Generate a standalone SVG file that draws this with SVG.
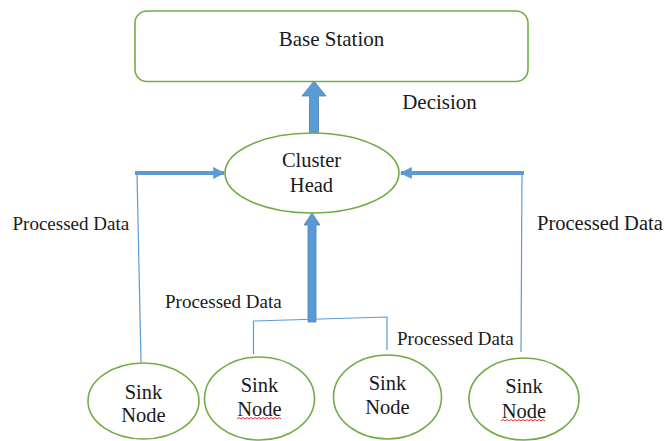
<svg xmlns="http://www.w3.org/2000/svg" width="666" height="441" viewBox="0 0 666 441">
<style>
.shape{fill:#fff;stroke:#70ad47;stroke-width:1.6}
text{font-family:'Liberation Serif','DejaVu Serif',serif;fill:#1a1a1a}
.t{text-anchor:middle;font-size:20.5px}
.pd{font-size:19px}
.thin{stroke:#5b9bd5;stroke-width:1.2;fill:none}
.thick{stroke:#5b9bd5;stroke-width:4;fill:none}
.big{fill:#5b9bd5;stroke:#4a83b8;stroke-width:0.8}
.sq{stroke:#e03030;stroke-width:1;fill:none}
</style>
<defs>
<marker id="ah" viewBox="0 0 10 10" refX="9" refY="5" markerWidth="3" markerHeight="3" orient="auto" markerUnits="strokeWidth">
<path d="M0,0 L10,5 L0,10 z" fill="#5b9bd5"/>
</marker>
</defs>
<rect width="666" height="441" fill="#fff"/>

<g id="connectors">
<polygon class="big" points="309.5,133 318.5,133 318.5,96 326,96 314,81 302,96 309.5,96"/>
<line class="thin" x1="137" y1="173" x2="141" y2="362"/>
<line class="thick" x1="135" y1="173" x2="224" y2="173" marker-end="url(#ah)"/>
<line class="thin" x1="522" y1="173" x2="521" y2="352"/>
<line class="thick" x1="524" y1="173" x2="401" y2="173" marker-end="url(#ah)"/>
<polygon class="big" points="308,322 316,322 316,225 320,225 312,213 304,225 308,225"/>
<polyline class="thin" points="253.5,354 253.5,321 387,317 387,350"/>
</g>

<g id="base-station">
<rect class="shape" x="135" y="11" width="393" height="70.5" rx="12"/>
<text class="t" x="331.5" y="46" font-family="Liberation Serif, serif" style="font-size:21px">Base Station</text>
</g>
<text class="t" x="439.5" y="109" font-family="Liberation Serif, serif" style="font-size:21px">Decision</text>

<g id="cluster-head">
<ellipse class="shape" cx="312" cy="173" rx="87" ry="40"/>
<text class="t" x="311.5" y="167">Cluster</text>
<text class="t" x="311.5" y="192">Head</text>
</g>

<text class="pd" x="12.5" y="230">Processed Data</text>
<text class="pd" x="537" y="230" style="font-size:20.5px">Processed Data</text>
<text class="pd" x="165" y="308">Processed Data</text>
<text class="pd" x="397" y="345">Processed Data</text>

<g id="sink1">
<ellipse class="shape" cx="143.5" cy="401" rx="55.5" ry="38"/>
<text class="t" x="143.5" y="399">Sink</text>
<text class="t" x="143.5" y="422">Node</text>
</g>
<g id="sink2">
<ellipse class="shape" cx="259.5" cy="398.5" rx="55" ry="41.5"/>
<text class="t" x="259.5" y="392">Sink</text>
<text class="t" x="259.5" y="416">Node</text>
<path class="sq" d="M237,419 l2,-1.5 l2,1.5 l2,-1.5 l2,1.5 l2,-1.5 l2,1.5 l2,-1.5 l2,1.5 l2,-1.5 l2,1.5 l2,-1.5 l2,1.5 l2,-1.5 l2,1.5 l2,-1.5 l2,1.5 l2,-1.5 l2,1.5 l2,-1.5 l2,1.5 l2,-1.5 l2,1.5"/>
</g>
<g id="sink3">
<ellipse class="shape" cx="387.5" cy="397" rx="54" ry="42"/>
<text class="t" x="387.5" y="390">Sink</text>
<text class="t" x="387.5" y="414">Node</text>
</g>
<g id="sink4">
<ellipse class="shape" cx="524" cy="399" rx="55" ry="41"/>
<text class="t" x="524" y="393">Sink</text>
<text class="t" x="524" y="418">Node</text>
<path class="sq" d="M501,421 l2,-1.5 l2,1.5 l2,-1.5 l2,1.5 l2,-1.5 l2,1.5 l2,-1.5 l2,1.5 l2,-1.5 l2,1.5 l2,-1.5 l2,1.5 l2,-1.5 l2,1.5 l2,-1.5 l2,1.5 l2,-1.5 l2,1.5 l2,-1.5 l2,1.5 l2,-1.5 l2,1.5"/>
</g>
</svg>
